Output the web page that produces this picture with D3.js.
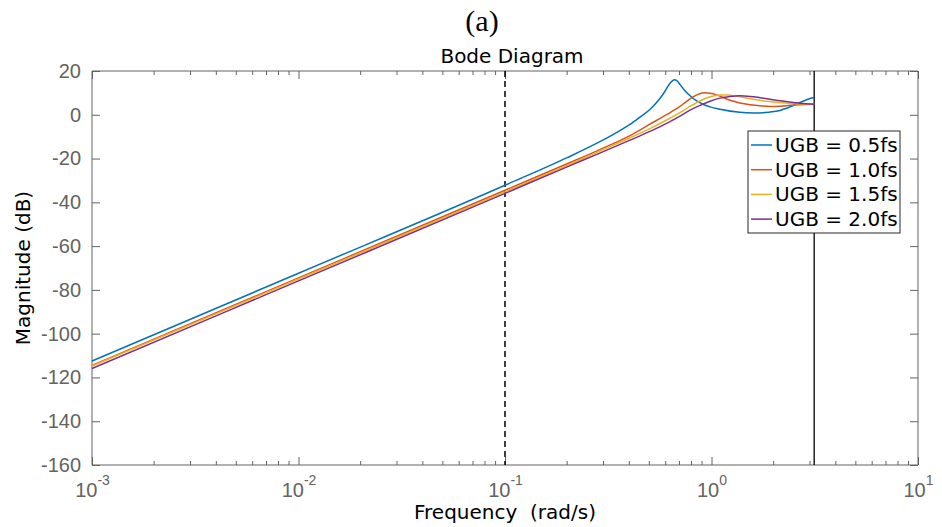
<!DOCTYPE html>
<html lang="en">
<head>
<meta charset="utf-8">
<title>Bode Diagram</title>
<script src="https://d3js.org/d3.v7.min.js"></script>
<style>
  body { margin: 0; background: #fff; }
  svg { font-family: "DejaVu Sans", sans-serif; }
  .axis text { fill: #636363; font-size: 20px; }
  .lbl { fill: #000; font-size: 20px; }
</style>
</head>
<body>
<svg id="chart" width="942" height="527"></svg>
<script>
// series labels + colours (matlab defaults)
var seriesNames = ["UGB = 0.5fs", "UGB = 1.0fs", "UGB = 1.5fs", "UGB = 2.0fs"];
var seriesColors = ["#0072BD", "#D95319", "#EDB120", "#7E2F8E"];

// frequency (rad/s) and magnitude (dB)
var freq05 = [0.001, 0.01, 0.1, 0.2, 0.288, 0.35, 0.403, 0.45, 0.503, 0.55, 0.585, 0.63, 0.661, 0.68, 0.703, 0.74, 0.773, 0.848, 0.92, 0.984, 1.1, 1.37, 1.6, 1.9, 2.15, 2.4, 2.68, 3.0, 3.1416];
var mag05  = [-112.5, -72.4, -32.2, -19.6, -12.3, -7.9, -4.4, -1.1, 2.4, 6.3, 9.6, 14.4, 16.0, 15.6, 13.9, 11.2, 9.4, 6.3, 4.6, 3.6, 2.5, 1.1, 0.8, 1.2, 2.0, 3.6, 5.6, 7.4, 7.9];

var freq10 = [0.001, 0.01, 0.1, 0.2, 0.288, 0.403, 0.503, 0.6, 0.703, 0.75, 0.8, 0.85, 0.9, 0.93, 0.984, 1.05, 1.1, 1.23, 1.37, 1.54, 1.72, 1.92, 2.15, 2.4, 2.68, 3.1416];
var mag10  = [-114.5, -74.5, -34.5, -22.4, -15.9, -9.5, -4.3, -0.2, 3.8, 5.8, 7.7, 9.1, 9.9, 10.05, 9.8, 9.2, 8.5, 6.6, 5.4, 4.6, 4.1, 3.8, 3.9, 4.3, 4.6, 4.8];

var freq15 = [0.001, 0.01, 0.1, 0.2, 0.288, 0.35, 0.403, 0.503, 0.6, 0.703, 0.787, 0.879, 0.984, 1.1, 1.2, 1.3, 1.54, 1.8, 2.15, 2.5, 3.1416];
var mag15  = [-114.8, -75.0, -35.2, -23.1, -16.6, -13.0, -10.5, -6.3, -2.6, 1.0, 3.8, 6.3, 8.2, 9.0, 9.0, 8.6, 7.3, 6.3, 5.6, 5.1, 4.8];

var freq20 = [0.001, 0.01, 0.1, 0.2, 0.288, 0.403, 0.503, 0.61, 0.7, 0.787, 0.88, 0.984, 1.1, 1.23, 1.37, 1.54, 1.72, 2.15, 2.68, 3.1416];
var mag20  = [-115.9, -75.9, -35.9, -23.8, -17.5, -11.6, -7.6, -3.8, -0.7, 2.1, 4.3, 6.2, 7.6, 8.4, 8.7, 8.4, 7.8, 6.4, 5.3, 4.8];

var allFreq = [freq05, freq10, freq15, freq20];
var allMag = [mag05, mag10, mag15, mag20];

var yTicks = [20, 0, -20, -40, -60, -80, -100, -120, -140, -160];
var xDecades = [-3, -2, -1, 0, 1];
var refFreq = 0.1;        // dashed marker
var nyquist = Math.PI;    // solid marker

// plot box (px)
var pL = 92, pR = 918, pT = 71, pB = 465;

var svg = d3.select("#chart");

var x = d3.scaleLog().domain([1e-3, 10]).range([pL, pR]);
var y = d3.scaleLinear().domain([-160, 20]).range([pB, pT]);

var axisCol = "#636363";

// minor ticks for the log axis
var minor = [];
xDecades.slice(0, -1).forEach(function(e) {
  for (var k = 2; k <= 9; k++) minor.push(k * Math.pow(10, e));
});
var major = xDecades.map(function(e) { return Math.pow(10, e); });

// bottom axis
var gx = svg.append("g").attr("class", "axis").attr("transform", "translate(0," + pB + ")");
gx.call(d3.axisBottom(x).tickValues(major).tickSize(-8).tickFormat(""));
gx.selectAll(".tick").data(major).append("text")
  .attr("y", 32).attr("text-anchor", "middle")
  .each(function(d) {
    var t = d3.select(this);
    t.append("tspan").text("10");
    t.append("tspan").attr("dy", -12).style("font-size", "14px").text(Math.round(Math.log10(d)));
  });
gx.append("g").selectAll("line").data(minor).enter().append("line")
  .attr("x1", function(d) { return x(d); }).attr("x2", function(d) { return x(d); })
  .attr("y1", 0).attr("y2", -4).attr("stroke", axisCol);

// top axis (box)
var gt = svg.append("g").attr("class", "axis").attr("transform", "translate(0," + pT + ")");
gt.call(d3.axisTop(x).tickValues(major).tickSize(-8).tickFormat(""));
gt.append("g").selectAll("line").data(minor).enter().append("line")
  .attr("x1", function(d) { return x(d); }).attr("x2", function(d) { return x(d); })
  .attr("y1", 0).attr("y2", 4).attr("stroke", axisCol);

// left + right axes
var gy = svg.append("g").attr("class", "axis").attr("transform", "translate(" + pL + ",0)");
gy.call(d3.axisLeft(y).tickValues(yTicks).tickSize(-8).tickPadding(11)
  .tickFormat(function(d) { return String(d); }));
var gr = svg.append("g").attr("class", "axis").attr("transform", "translate(" + pR + ",0)");
gr.call(d3.axisRight(y).tickValues(yTicks).tickSize(-8).tickFormat(""));

svg.selectAll(".axis .tick line").attr("stroke", axisCol);
gx.select("path").attr("d", "M" + pL + ",0H" + pR);
gt.select("path").attr("d", "M" + pL + ",0H" + pR);
gy.select("path").attr("d", "M0," + pT + "V" + pB);
gr.select("path").attr("d", "M0," + pT + "V" + pB);
svg.selectAll(".axis path").attr("fill", "none").attr("stroke", axisCol);

// marker lines
svg.append("line")
  .attr("x1", x(refFreq)).attr("x2", x(refFreq)).attr("y1", pT).attr("y2", pB)
  .attr("stroke", "#000").attr("stroke-width", 1.5).attr("stroke-dasharray", "6,4");
svg.append("line")
  .attr("x1", x(nyquist)).attr("x2", x(nyquist)).attr("y1", pT).attr("y2", pB)
  .attr("stroke", "#000").attr("stroke-width", 1.3);

// curves
var line = d3.line()
  .x(function(d) { return x(d[0]); })
  .y(function(d) { return y(d[1]); })
  .curve(d3.curveMonotoneX);

allFreq.forEach(function(f, i) {
  var pts = f.map(function(v, j) { return [v, allMag[i][j]]; });
  svg.append("path").datum(pts)
    .attr("d", line).attr("fill", "none")
    .attr("stroke", seriesColors[i]).attr("stroke-width", 1.5);
});

// legend
var lg = svg.append("g").attr("transform", "translate(748,131)");
lg.append("rect").attr("width", 152).attr("height", 102)
  .attr("fill", "#fff").attr("stroke", "#262626").attr("stroke-width", 1);
seriesNames.forEach(function(n, i) {
  var cy = 14 + i * 24.7;
  lg.append("line").attr("x1", 3).attr("x2", 24).attr("y1", cy).attr("y2", cy)
    .attr("stroke", seriesColors[i]).attr("stroke-width", 1.5);
  lg.append("text").attr("class", "lbl").attr("x", 27).attr("y", cy + 7).text(n);
});

// titles
svg.append("text").attr("x", 482).attr("y", 31).attr("text-anchor", "middle")
  .style("font-family", "'Liberation Serif', serif").style("font-size", "30px").text("(a)");
svg.append("text").attr("class", "lbl").attr("x", 512).attr("y", 63)
  .attr("text-anchor", "middle").text("Bode Diagram");
svg.append("text").attr("class", "lbl").attr("x", 505).attr("y", 519)
  .attr("text-anchor", "middle").style("white-space", "pre").text("Frequency  (rad/s)");
svg.append("text").attr("class", "lbl")
  .attr("transform", "translate(30,268) rotate(-90)")
  .attr("text-anchor", "middle").text("Magnitude (dB)");
</script>
</body>
</html>
